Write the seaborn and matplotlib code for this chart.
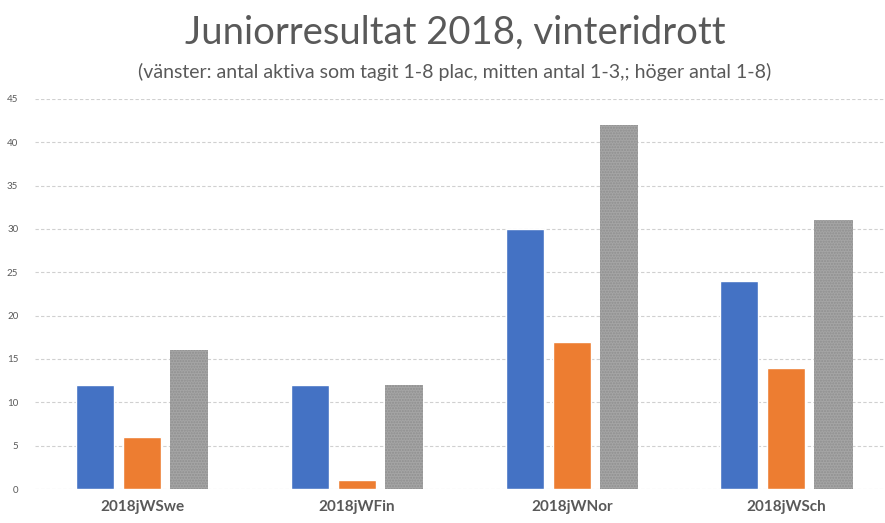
import matplotlib
matplotlib.use("Agg")
import matplotlib.pyplot as plt
import seaborn as sns
import pandas as pd

categories = ["2018jWSwe", "2018jWFin", "2018jWNor", "2018jWSch"]
series_names = ["vänster", "mitten", "höger"]
vanster = [12, 12, 30, 24]
mitten = [6, 1, 17, 14]
hoger = [16, 12, 42, 31]
colors = ["#4472C4", "#ED7D31", "#A5A5A5"]
yticks = [0, 5, 10, 15, 20, 25, 30, 35, 40, 45]

rows = []
for name, vals in zip(series_names, [vanster, mitten, hoger]):
    for c, v in zip(categories, vals):
        rows.append({"cat": c, "series": name, "value": v})
df = pd.DataFrame(rows)

sns.set_theme(style="white")
plt.rcParams['font.family'] = ['Lato', 'DejaVu Sans']
plt.rcParams['hatch.color'] = '#8f8f8f'

fig = plt.figure(figsize=(8.85, 5.23), dpi=100)
ax = fig.add_axes([0.0395, 0.065, 0.9605, 0.746])
sns.barplot(data=df, x="cat", y="value", hue="series", palette=colors,
            width=0.657, gap=0.19, ax=ax, legend=False, saturation=1)

# pattern on the gray bars
for patch in ax.patches:
    fc = patch.get_facecolor()
    if abs(fc[0] - 0.647) < 0.02 and abs(fc[1] - 0.647) < 0.02:
        patch.set_hatch("......")
        patch.set_edgecolor("#8f8f8f")
        patch.set_linewidth(0)

ax.set_ylim(0, 45)
ax.set_xlim(-0.5, 3.459)
ax.set_yticks(yticks)
ax.set_yticklabels([str(t) for t in yticks], fontsize=7, color="#595959")
ax.tick_params(axis="y", length=0, pad=12)
ax.tick_params(axis="x", length=0, pad=8)
for lbl in ax.get_xticklabels():
    lbl.set_fontsize(11)
    lbl.set_fontweight("bold")
    lbl.set_color("#595959")
ax.set_xlabel("")
ax.set_ylabel("")
ax.yaxis.grid(True, color="#d0d0d0", linestyle=(0, (3, 2)), linewidth=0.8)
ax.set_axisbelow(True)
for s in ax.spines.values():
    s.set_visible(False)

fig.text(0.514, 0.938, "Juniorresultat 2018, vinteridrott", ha="center", va="center",
         fontsize=27.5, color="#595959")
fig.text(0.514, 0.862, "(vänster: antal aktiva som tagit 1-8 plac, mitten antal 1-3,; höger antal 1-8)",
         ha="center", va="center", fontsize=14, color="#595959")

fig.savefig("out.png", dpi=100)
